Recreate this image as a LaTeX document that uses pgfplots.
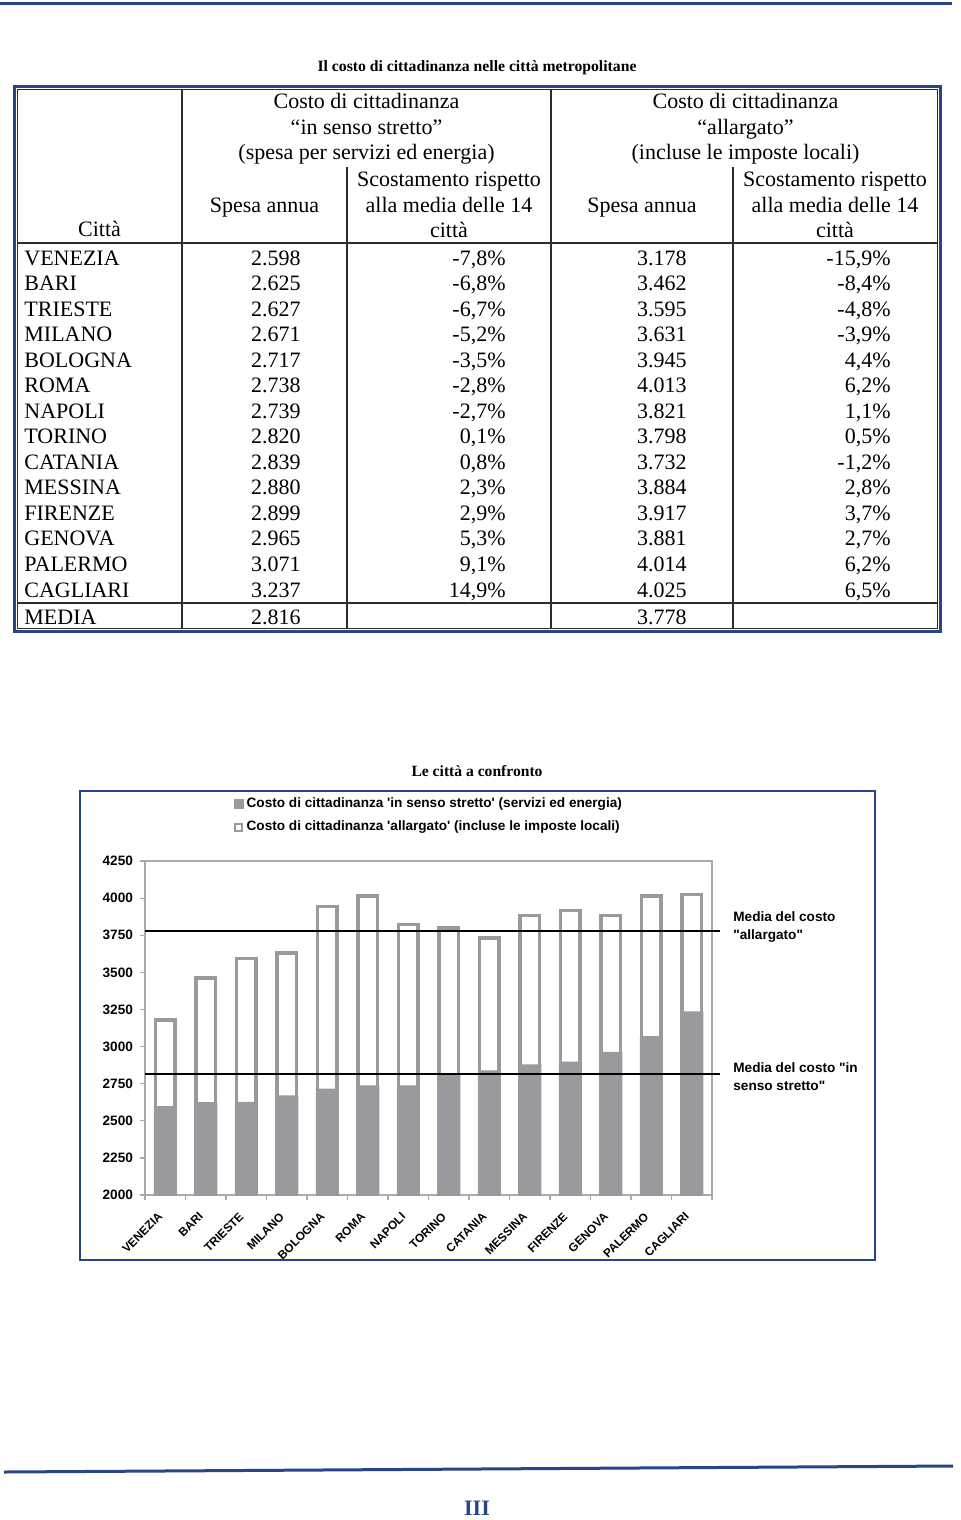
\documentclass[border=0pt]{standalone}
\usepackage{pgfplots}
\pgfplotsset{compat=1.18}
\usepackage{fontspec}
\setmainfont{Liberation Serif}
\newfontfamily\chartfont{Liberation Sans}[Ligatures=TeXOff]
\definecolor{pageblue}{RGB}{40,68,138}
\definecolor{barg}{RGB}{152,154,158}
\definecolor{axg}{RGB}{170,170,170}
\definecolor{rulec}{RGB}{45,45,45}

% one table row: index, city, spesa, scost., spesa allargata, scost.
\newcommand\tabrow[6]{%
  \pgfmathsetmacro\yy{265+25.54*#1}
  \node[anchor=base west] at (24,\yy) {#2};
  \node[anchor=base east] at (301,\yy) {#3};
  \node[anchor=base east] at (506,\yy) {#4};
  \node[anchor=base east] at (687,\yy) {#5};
  \node[anchor=base east] at (891,\yy) {#6};
}
\newcommand\cf{\chartfont\bfseries\fontsize{6.8}{8}\selectfont}

\begin{document}
\begin{tikzpicture}[x=0.5pt,y=-0.5pt]
\path[use as bounding box, fill=white] (0,0) rectangle (960,1520);

% page rules and number
\draw[pageblue, line width=1.5pt] (0,3.5) -- (952,3.5);
\draw[pageblue, line width=1.5pt] (4,1472) -- (953,1466);
\node[anchor=base, inner sep=0pt, text=pageblue, font=\fontsize{11}{13}\selectfont\bfseries] at (477,1515) {III};

% ---------- table ----------
\node[anchor=base, inner sep=0pt, font=\fontsize{7.85}{9}\selectfont\bfseries] at (477,72)
  {Il costo di cittadinanza nelle città metropolitane};

\draw[pageblue, line width=1.6pt] (14.5,86.5) rectangle (940.5,631.5);
\draw[rulec, line width=0.7pt] (17.5,89.5) rectangle (937.5,628.5);
\draw[rulec, line width=1pt] (182,89.5) -- (182,628.5);
\draw[rulec, line width=1pt] (551,89.5) -- (551,628.5);
\draw[rulec, line width=1pt] (347,167) -- (347,628.5);
\draw[rulec, line width=1pt] (733,167) -- (733,628.5);
\draw[rulec, line width=1pt] (17.5,243) -- (937.5,243);
\draw[rulec, line width=1pt] (17.5,603) -- (937.5,603);

\begin{scope}[every node/.style={inner sep=0pt}, font=\fontsize{11}{12.75}\selectfont]
\node[anchor=base] at (366.5,109) {Costo di cittadinanza};
\node[anchor=base] at (366.5,134) {``in senso stretto''};
\node[anchor=base] at (366.5,160) {(spesa per servizi ed energia)};
\node[anchor=base] at (745.5,109) {Costo di cittadinanza};
\node[anchor=base] at (745.5,134) {``allargato''};
\node[anchor=base] at (745.5,160) {(incluse le imposte locali)};
\node[anchor=base] at (99.5,236) {Città};
\node[anchor=base] at (264.5,212) {Spesa annua};
\node[anchor=base] at (449,186) {Scostamento rispetto};
\node[anchor=base] at (449,212) {alla media delle 14};
\node[anchor=base] at (449,237) {città};
\node[anchor=base] at (642,212) {Spesa annua};
\node[anchor=base] at (835,186) {Scostamento rispetto};
\node[anchor=base] at (835,212) {alla media delle 14};
\node[anchor=base] at (835,237) {città};

\tabrow{0}{VENEZIA}{2.598}{-7,8\%}{3.178}{-15,9\%}
\tabrow{1}{BARI}{2.625}{-6,8\%}{3.462}{-8,4\%}
\tabrow{2}{TRIESTE}{2.627}{-6,7\%}{3.595}{-4,8\%}
\tabrow{3}{MILANO}{2.671}{-5,2\%}{3.631}{-3,9\%}
\tabrow{4}{BOLOGNA}{2.717}{-3,5\%}{3.945}{4,4\%}
\tabrow{5}{ROMA}{2.738}{-2,8\%}{4.013}{6,2\%}
\tabrow{6}{NAPOLI}{2.739}{-2,7\%}{3.821}{1,1\%}
\tabrow{7}{TORINO}{2.820}{0,1\%}{3.798}{0,5\%}
\tabrow{8}{CATANIA}{2.839}{0,8\%}{3.732}{-1,2\%}
\tabrow{9}{MESSINA}{2.880}{2,3\%}{3.884}{2,8\%}
\tabrow{10}{FIRENZE}{2.899}{2,9\%}{3.917}{3,7\%}
\tabrow{11}{GENOVA}{2.965}{5,3\%}{3.881}{2,7\%}
\tabrow{12}{PALERMO}{3.071}{9,1\%}{4.014}{6,2\%}
\tabrow{13}{CAGLIARI}{3.237}{14,9\%}{4.025}{6,5\%}
\node[anchor=base west] at (24,624) {MEDIA};
\node[anchor=base east] at (301,624) {2.816};
\node[anchor=base east] at (687,624) {3.778};
\end{scope}

% ---------- chart ----------
\node[anchor=base, inner sep=0pt, font=\fontsize{7.8}{9}\selectfont\bfseries] at (477,776)
  {Le città a confronto};
\draw[pageblue, line width=1.1pt] (80,791) rectangle (875,1260);

\begin{axis}[
    at={(72.5pt,-597.5pt)}, anchor=south west,
    scale only axis, width=283.5pt, height=167pt,
    xmin=-0.5, xmax=13.5, ymin=2000, ymax=4250,
    ytick={2000,2250,...,4250},
    xtick={-0.5,0.5,...,13.5}, xticklabels={},
    extra x ticks={0,...,13},
    extra x tick labels={VENEZIA,BARI,TRIESTE,MILANO,BOLOGNA,ROMA,NAPOLI,TORINO,CATANIA,MESSINA,FIRENZE,GENOVA,PALERMO,CAGLIARI},
    extra x tick style={major tick length=0pt},
    xtick pos=bottom, ytick pos=left,
    tick align=outside, major tick length=2.5pt,
    axis line style={axg, line width=0.6pt},
    tick style={axg, line width=0.6pt},
    yticklabel style={font=\cf, /pgf/number format/1000 sep={}, /pgf/number format/assume math mode=true},
    xticklabel style={font=\chartfont\bfseries\fontsize{5.9}{7}\selectfont, xshift=-3.9pt, yshift=-8.1pt,
      rotate=45, anchor=north east, inner sep=0pt},
    legend style={at={(rel axis cs:0.156,1.201)}, anchor=north west, draw=none, fill=none,
      font=\cf, row sep=2.5pt, inner sep=0pt, nodes={inner sep=1.5pt}},
    legend cell align=left,
  ]
  \addlegendimage{legend image code/.code={\fill[barg] (0pt,-2.25pt) rectangle (4.5pt,2.25pt);}}
  \addlegendentry{Costo di cittadinanza 'in senso stretto' (servizi ed energia)}
  \addlegendimage{legend image code/.code={\draw[barg, line width=1pt, fill=white] (0.5pt,-1.75pt) rectangle (4pt,1.75pt);}}
  \addlegendentry{Costo di cittadinanza 'allargato' (incluse le imposte locali)}
  % costo allargato (outline bars)
  \addplot[ybar, bar width=9.8pt, bar shift=0pt, draw=barg, line width=1.7pt, fill=white, forget plot]
    coordinates {(0,3178)(1,3462)(2,3595)(3,3631)(4,3945)(5,4013)(6,3821)(7,3798)(8,3732)(9,3884)(10,3917)(11,3881)(12,4014)(13,4025)};
  % costo in senso stretto (filled bars)
  \addplot[ybar, bar width=11.5pt, bar shift=0pt, draw=none, fill=barg, forget plot]
    coordinates {(0,2598)(1,2625)(2,2627)(3,2671)(4,2717)(5,2738)(6,2739)(7,2820)(8,2839)(9,2880)(10,2899)(11,2965)(12,3071)(13,3237)};
\end{axis}

% average lines drawn on top, beyond the plot area
\begin{axis}[
    at={(72.5pt,-597.5pt)}, anchor=south west,
    scale only axis, width=283.5pt, height=167pt,
    xmin=-0.5, xmax=13.5, ymin=2000, ymax=4250,
    hide axis, clip=false,
  ]
  \addplot[black, line width=1.1pt] coordinates {(-0.5,3778) (13.7,3778)};
  \addplot[black, line width=1.1pt] coordinates {(-0.5,2816) (13.7,2816)};
\end{axis}

\begin{scope}[every node/.style={inner sep=0pt, anchor=base west}, font=\cf]
\node at (733,921) {Media del costo};
\node at (733,939) {"allargato"};
\node at (733,1072) {Media del costo "in};
\node at (733,1090) {senso stretto"};
\end{scope}
\end{tikzpicture}
\end{document}
